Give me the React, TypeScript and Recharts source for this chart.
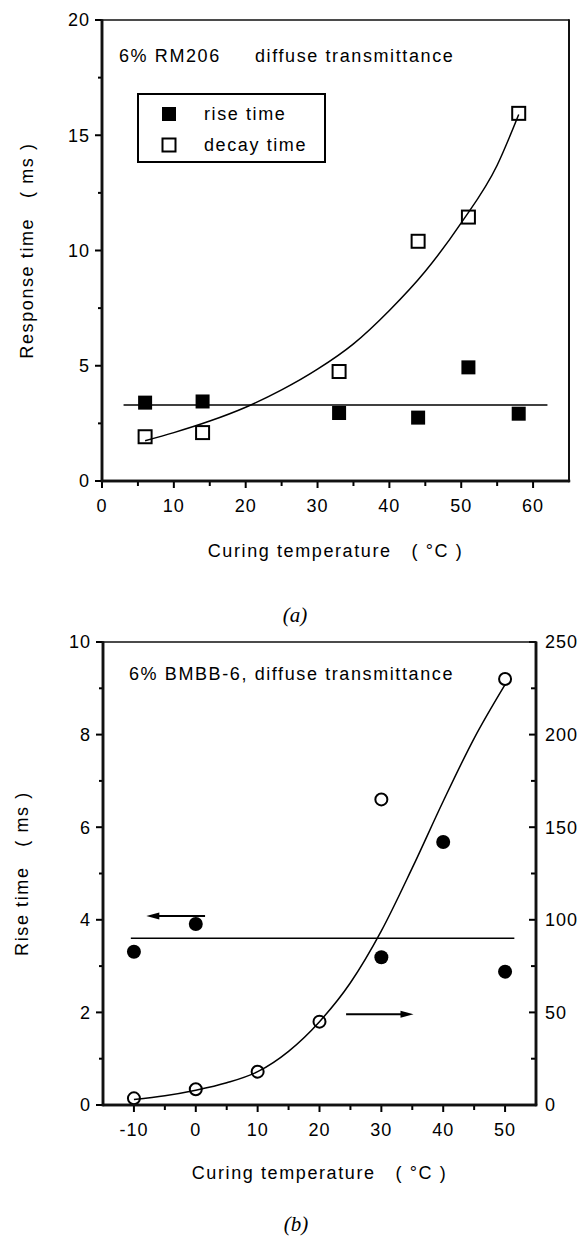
import React from 'react';
import { ComposedChart, Line, Scatter, XAxis, YAxis, ReferenceLine, Legend } from 'recharts';

// ---- panel (a): 6% RM206 ----
const tempA = [6, 14, 33, 44, 51, 58];
const riseA = [3.4, 3.45, 2.95, 2.75, 4.93, 2.92];
const decayA = [1.92, 2.1, 4.75, 10.4, 11.45, 15.95];
const riseFitTempA = [3, 62];
const riseFitA = [3.3, 3.3];
const decayFitTempA = [6, 10, 15, 20, 25, 30, 35, 40, 45, 50, 55, 58];
const decayFitA = [1.75, 2.1, 2.6, 3.2, 3.95, 4.85, 5.95, 7.4, 9.1, 11.2, 13.7, 15.9];

const xDomainA = [0, 65];
const yDomainA = [0, 20];
const xTicksA = [0, 5, 10, 15, 20, 25, 30, 35, 40, 45, 50, 55, 60];
const xLabelsA = [0, 10, 20, 30, 40, 50, 60];
const yTicksA = [0, 2.5, 5, 7.5, 10, 12.5, 15, 17.5, 20];
const yLabelsA = [0, 5, 10, 15, 20];

// ---- panel (b): 6% BMBB-6 ----
const riseTempB = [-10, 0, 30, 40, 50];
const riseB = [3.31, 3.91, 3.19, 5.68, 2.88];
const decayTempB = [-10, 0, 10, 20, 30, 50];
const decayB = [3.6, 8.5, 18, 45, 165, 230];
const riseFitTempB = [-10.5, 51.5];
const riseFitB = [3.6, 3.6];
const decayFitTempB = [-10, -5, 0, 5, 10, 15, 20, 25, 30, 35, 40, 45, 50];
const decayFitB = [3, 5, 8, 12, 18, 29, 45, 66, 94, 128, 164, 198, 227];
// arrows (left-axis units)
const arrowLeftB = [{ x: 1.5, y: 4.08 }, { x: -8, y: 4.08 }];
const arrowRightB = [{ x: 24.3, y: 1.96 }, { x: 35.2, y: 1.96 }];

const xDomainB = [-15, 55];
const yLeftDomainB = [0, 10];
const yRightDomainB = [0, 250];
const xTicksB = [-10, -5, 0, 5, 10, 15, 20, 25, 30, 35, 40, 45, 50];
const xLabelsB = [-10, 0, 10, 20, 30, 40, 50];
const yLeftTicksB = [0, 1, 2, 3, 4, 5, 6, 7, 8, 9, 10];
const yLeftLabelsB = [0, 2, 4, 6, 8, 10];
const yRightTicksB = [0, 25, 50, 75, 100, 125, 150, 175, 200, 225, 250];
const yRightLabelsB = [0, 50, 100, 150, 200, 250];

const pts = (xs: number[], ys: number[]) => xs.map((x, i) => ({ x, y: ys[i] }));

// chart layout
const W = 584;
const layoutA = { top: 0, height: 600, margin: { top: 20, right: 15, left: 0, bottom: 29 }, yw: 102, yrw: 0, xh: 90 };
const layoutB = { top: 600, height: 637, margin: { top: 42, right: 0, left: 0, bottom: 32 }, yw: 103, yrw: 48, xh: 100 };
const plotBox = (l: typeof layoutA) => ({
  x0: l.margin.left + l.yw,
  x1: W - l.margin.right - l.yrw,
  y0: l.top + l.margin.top,
  y1: l.top + l.height - l.margin.bottom - l.xh,
});

const FONT = '"Liberation Sans", Arial, Helvetica, sans-serif';
const tickText = { fontFamily: FONT, fontSize: 18, letterSpacing: 1, fill: '#000' };
const titleText = { fontFamily: FONT, fontSize: 18, letterSpacing: 1.6, fill: '#000' };
const axisLine = { stroke: '#000', strokeWidth: 2.5 };

const BottomTick = (props: any) => {
  const { x, y, payload, labels } = props;
  const major = labels.includes(payload.value);
  return (
    <g>
      <line x1={x} x2={x} y1={y} y2={y + (major ? 7 : 5)} stroke="#000" strokeWidth={2} />
      {major && (
        <text x={x} y={y + 31} textAnchor="middle" {...tickText}>
          {payload.value}
        </text>
      )}
    </g>
  );
};

const LeftTick = (props: any) => {
  const { x, y, payload, labels } = props;
  const major = labels.includes(payload.value);
  return (
    <g>
      <line x1={x - (major ? 7 : 4)} x2={x} y1={y} y2={y} stroke="#000" strokeWidth={2} />
      {major && (
        <text x={x - 12} y={y} dy="0.36em" textAnchor="end" {...tickText}>
          {payload.value}
        </text>
      )}
    </g>
  );
};

const RightTick = (props: any) => {
  const { x, y, payload, labels } = props;
  const major = labels.includes(payload.value);
  return (
    <g>
      <line x1={x - (major ? 7 : 5)} x2={x} y1={y} y2={y} stroke="#000" strokeWidth={2} />
      {major && (
        <text x={x + 9} y={y} dy="0.36em" textAnchor="start" {...tickText}>
          {payload.value}
        </text>
      )}
    </g>
  );
};

const xTitle = (dy: number) => (props: any) => {
  const vb = props.viewBox;
  return (
    <text x={vb.x + vb.width / 2} y={vb.y + dy} textAnchor="middle" style={{ whiteSpace: 'pre' }} {...titleText}>
      {'Curing temperature   ( °C )'}
    </text>
  );
};

const yTitle = (text: string, cx: number) => (props: any) => {
  const vb = props.viewBox;
  const cy = vb.y + vb.height / 2;
  return (
    <text
      x={cx}
      y={cy}
      transform={`rotate(-90 ${cx} ${cy})`}
      textAnchor="middle"
      style={{ whiteSpace: 'pre' }}
      {...titleText}
    >
      {text}
    </text>
  );
};

const FilledSquare = (p: any) => <rect x={p.cx - 7} y={p.cy - 7} width={14} height={14} fill="#000" />;
const OpenSquare = (p: any) => (
  <rect x={p.cx - 6.5} y={p.cy - 6.5} width={13} height={13} fill="none" stroke="#000" strokeWidth={2} />
);
const FilledCircle = (p: any) => <circle cx={p.cx} cy={p.cy} r={7} fill="#000" />;
const OpenCircle = (p: any) => <circle cx={p.cx} cy={p.cy} r={6} fill="none" stroke="#000" strokeWidth={2} />;

const Arrow = (p: any) => {
  const { x1, y1, x2, y2 } = p;
  const dir = Math.sign(x2 - x1);
  return (
    <g>
      <line x1={x1} y1={y1} x2={x2 - dir * 8} y2={y2} stroke="#000" strokeWidth={2} />
      <polygon points={`${x2},${y2} ${x2 - dir * 13},${y2 - 3.5} ${x2 - dir * 13},${y2 + 3.5}`} fill="#000" />
    </g>
  );
};

const LegendBox = () => (
  <svg width={189} height={70} style={{ display: 'block' }}>
    <rect x={1} y={1} width={187} height={68} fill="#fff" stroke="#000" strokeWidth={2} />
    <rect x={25} y={14} width={14} height={14} fill="#000" />
    <text x={67} y={27} {...titleText}>rise time</text>
    <rect x={25.5} y={45.5} width={13} height={13} fill="none" stroke="#000" strokeWidth={2} />
    <text x={67} y={58} {...titleText}>decay time</text>
  </svg>
);

// box around a plot, drawn as filled bars: thick left/bottom axes, thinner top/right sides
const Frame = ({ box, right }: { box: ReturnType<typeof plotBox>; right: number }) => (
  <g fill="#111" stroke="none">
    <rect x={box.x0 - 1} y={box.y0 - 0.75} width={box.x1 - box.x0 + 1} height={1.5} />
    <rect x={box.x1 - right / 2} y={box.y0 - 0.75} width={right} height={box.y1 - box.y0 + 2} />
    <rect x={box.x0 - 1.25} y={box.y0 - 0.75} width={2.5} height={box.y1 - box.y0 + 2} />
    <rect x={box.x0 - 1.25} y={box.y1 - 1.25} width={box.x1 - box.x0 + 2.5} height={2.5} />
  </g>
);

const lineProps = { dot: false, activeDot: false, isAnimationActive: false, stroke: '#000' } as const;

const ChartA = () => (
  <ComposedChart width={W} height={layoutA.height} margin={layoutA.margin}>
    <XAxis
      type="number"
      dataKey="x"
      domain={xDomainA}
      ticks={xTicksA}
      interval={0}
      height={layoutA.xh}
      tickSize={0}
      tickMargin={0}
      tickLine={false}
      axisLine={axisLine}
      tick={(p: any) => <BottomTick {...p} labels={xLabelsA} />}
      label={xTitle(76)}
    />
    <YAxis
      type="number"
      dataKey="y"
      domain={yDomainA}
      ticks={yTicksA}
      interval={0}
      width={layoutA.yw}
      tickSize={0}
      tickMargin={0}
      tickLine={false}
      axisLine={axisLine}
      tick={(p: any) => <LeftTick {...p} labels={yLabelsA} />}
      label={yTitle('Response time   ( ms )', 33)}
    />
    <Line data={pts(riseFitTempA, riseFitA)} dataKey="y" strokeWidth={1.5} {...lineProps} />
    <Line data={pts(decayFitTempA, decayFitA)} dataKey="y" type="monotone" strokeWidth={1.5} {...lineProps} />
    <Scatter name="rise time" data={pts(tempA, riseA)} dataKey="y" shape={FilledSquare} isAnimationActive={false} />
    <Scatter name="decay time" data={pts(tempA, decayA)} dataKey="y" shape={OpenSquare} isAnimationActive={false} />
    <Legend
      layout="vertical"
      align="center"
      verticalAlign="middle"
      content={() => <LegendBox />}
      wrapperStyle={{ left: 137, top: 93, width: 189, height: 70 }}
    />
  </ComposedChart>
);

const ChartB = () => (
  <ComposedChart width={W} height={layoutB.height} margin={layoutB.margin}>
    <XAxis
      type="number"
      dataKey="x"
      domain={xDomainB}
      ticks={xTicksB}
      interval={0}
      height={layoutB.xh}
      tickSize={0}
      tickMargin={0}
      tickLine={false}
      axisLine={axisLine}
      tick={(p: any) => <BottomTick {...p} labels={xLabelsB} />}
      label={xTitle(74)}
    />
    <YAxis
      yAxisId="left"
      type="number"
      dataKey="y"
      domain={yLeftDomainB}
      ticks={yLeftTicksB}
      interval={0}
      width={layoutB.yw}
      tickSize={0}
      tickMargin={0}
      tickLine={false}
      axisLine={axisLine}
      tick={(p: any) => <LeftTick {...p} labels={yLeftLabelsB} />}
      label={yTitle('Rise time   ( ms )', 28)}
    />
    <YAxis
      yAxisId="right"
      orientation="right"
      type="number"
      dataKey="y"
      domain={yRightDomainB}
      ticks={yRightTicksB}
      interval={0}
      width={layoutB.yrw}
      tickSize={0}
      tickMargin={0}
      tickLine={false}
      axisLine={axisLine}
      tick={(p: any) => <RightTick {...p} labels={yRightLabelsB} />}
    />
    <ReferenceLine yAxisId="left" segment={arrowLeftB} shape={Arrow} />
    <ReferenceLine yAxisId="left" segment={arrowRightB} shape={Arrow} />
    <Line yAxisId="left" data={pts(riseFitTempB, riseFitB)} dataKey="y" strokeWidth={1.5} {...lineProps} />
    <Line yAxisId="right" data={pts(decayFitTempB, decayFitB)} dataKey="y" type="monotone" strokeWidth={1.5} {...lineProps} />
    <Scatter yAxisId="left" name="rise time" data={pts(riseTempB, riseB)} dataKey="y" shape={FilledCircle} isAnimationActive={false} />
    <Scatter yAxisId="right" name="decay time" data={pts(decayTempB, decayB)} dataKey="y" shape={OpenCircle} isAnimationActive={false} />
  </ComposedChart>
);

export default function App() {
  return (
    <div style={{ position: 'absolute', left: 0, top: 0, width: W, height: 1237, background: '#fff' }}>
      <div style={{ position: 'absolute', left: 0, top: layoutA.top }}>
        <ChartA />
      </div>
      <div style={{ position: 'absolute', left: 0, top: layoutB.top }}>
        <ChartB />
      </div>
      <svg width={W} height={1237} style={{ position: 'absolute', left: 0, top: 0, pointerEvents: 'none' }}>
        <Frame box={plotBox(layoutA)} right={2} />
        <Frame box={plotBox(layoutB)} right={2.5} />
        <text x={119} y={62} {...titleText}>6% RM206</text>
        <text x={255} y={62} {...titleText}>diffuse transmittance</text>
        <text x={129} y={680} {...titleText}>6% BMBB-6, diffuse transmittance</text>
        <text x={295} y={622} textAnchor="middle" fontFamily='"Liberation Serif", "Times New Roman", serif' fontStyle="italic" fontSize={21} fill="#000">(a)</text>
        <text x={296} y={1231} textAnchor="middle" fontFamily='"Liberation Serif", "Times New Roman", serif' fontStyle="italic" fontSize={21} fill="#000">(b)</text>
      </svg>
    </div>
  );
}
